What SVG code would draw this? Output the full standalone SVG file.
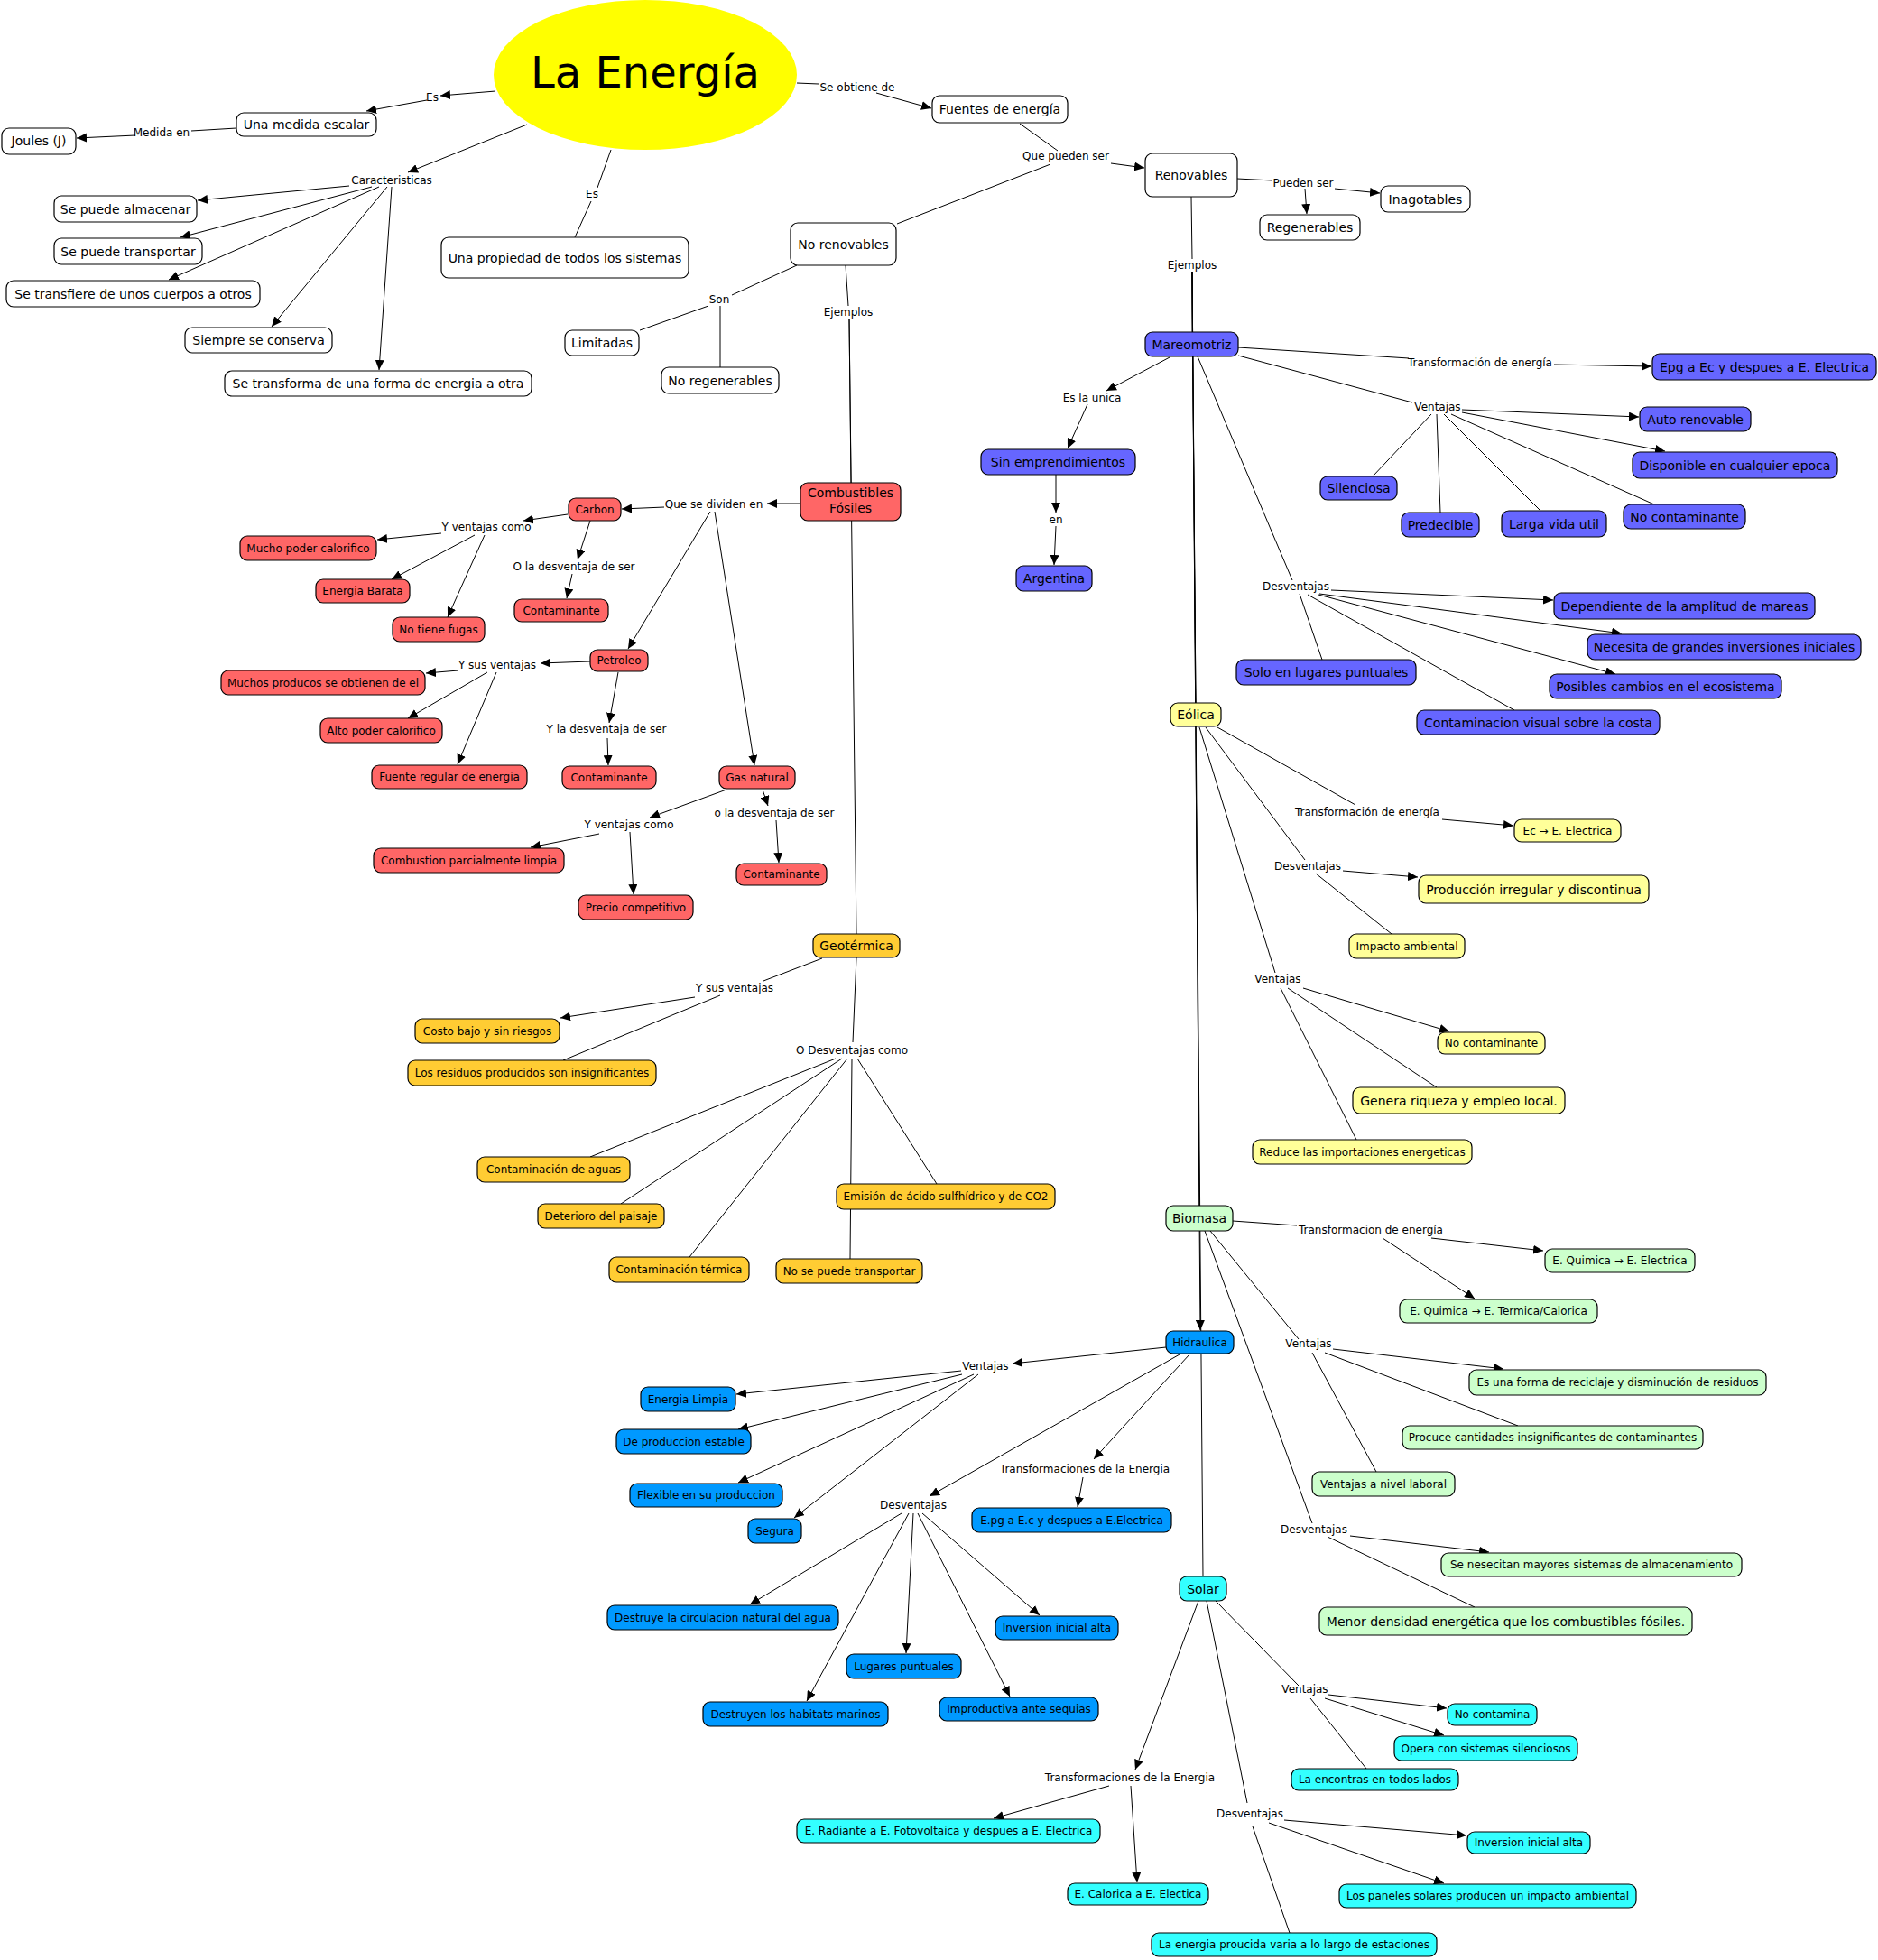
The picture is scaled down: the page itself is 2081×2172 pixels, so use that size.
<svg xmlns="http://www.w3.org/2000/svg" width="2081" height="2172" viewBox="0 0 2081 2172">
<defs>
<marker id="ah" markerUnits="userSpaceOnUse" markerWidth="11" markerHeight="10" refX="11" refY="5" orient="auto" viewBox="0 0 11 10"><path d="M0,0 L11,5 L0,10 z" fill="#000"/></marker>
<style>
text{font-family:"DejaVu Sans",Verdana,sans-serif;fill:#000;text-anchor:middle}
.n rect{stroke:#000;stroke-width:1.2}
.t14{font-size:14px}.t12{font-size:12px}
.lbl text{font-size:12px}
.w rect{fill:#fff}.r rect{fill:#ff6666}.b rect{fill:#6666ff}.o rect{fill:#ffcc33}.y rect{fill:#ffff99}.g rect{fill:#ccffcc}.h rect{fill:#0099ff}.c rect{fill:#33ffff}
#connectors path{stroke:#000;stroke-width:1;fill:none}
#connectors path.a{marker-end:url(#ah)}
</style>
</defs>
<rect width="2081" height="2172" fill="#fff"/>
<g id="connectors">
<path class="a" d="M549,101 L488,106"/>
<path class="a" d="M473,111 L406,123"/>
<path d="M262,142 L212,145"/>
<path class="a" d="M150,150 L85,153"/>
<path class="a" d="M584,138 L452,191"/>
<path class="a" d="M387,206 L219,222"/>
<path class="a" d="M412,207 L200,263"/>
<path class="a" d="M420,207 L187,310"/>
<path class="a" d="M429,207 L301,362"/>
<path class="a" d="M434,207 L420,410"/>
<path d="M677,166 L662,208"/>
<path d="M655,223 L637,263"/>
<path d="M883,92 L907,93"/>
<path class="a" d="M971,103 L1032,120"/>
<path d="M1130,137 L1172,167"/>
<path class="a" d="M1231,181 L1268,186"/>
<path d="M1164,182 L994,248"/>
<path d="M1371,198 L1410,200"/>
<path class="a" d="M1479,209 L1529,214"/>
<path class="a" d="M1446,209 L1448,237"/>
<path d="M883,294 L811,327"/>
<path d="M785,339 L709,366"/>
<path d="M798,339 L798,407"/>
<path d="M937,294 L940,339"/>
<path d="M941,353 L943,535"/>
<path d="M941,353 L949,1035"/>
<path d="M1320,218 L1321,287"/>
<path d="M1321,301 L1321,368"/>
<path d="M1321,301 L1325,779"/>
<path d="M1321,301 L1329,1336"/>
<path class="a" d="M1321,301 L1330,1474"/>
<path d="M1321,301 L1333,1747"/>
<path d="M1372,385 L1561,397"/>
<path class="a" d="M1722,404 L1830,406"/>
<path d="M1372,394 L1565,446"/>
<path class="a" d="M1620,454 L1816,462"/>
<path class="a" d="M1620,457 L1845,500"/>
<path d="M1586,459 L1521,528"/>
<path d="M1592,459 L1596,568"/>
<path d="M1600,459 L1707,566"/>
<path d="M1608,459 L1833,559"/>
<path class="a" d="M1296,396 L1226,433"/>
<path class="a" d="M1205,448 L1183,497"/>
<path class="a" d="M1170,526 L1170,568"/>
<path class="a" d="M1170,583 L1168,626"/>
<path d="M1327,395 L1432,643"/>
<path d="M1440,658 L1465,731"/>
<path class="a" d="M1475,654 L1721,665"/>
<path class="a" d="M1462,658 L1797,702"/>
<path class="a" d="M1461,659 L1790,747"/>
<path d="M1449,659 L1678,787"/>
<path d="M1349,806 L1502,892"/>
<path class="a" d="M1598,908 L1677,915"/>
<path d="M1336,806 L1446,953"/>
<path class="a" d="M1488,965 L1571,972"/>
<path d="M1458,968 L1542,1035"/>
<path d="M1329,806 L1413,1078"/>
<path class="a" d="M1444,1095 L1606,1143"/>
<path d="M1427,1095 L1592,1205"/>
<path d="M1419,1095 L1503,1263"/>
<path class="a" d="M887,558 L850,558"/>
<path class="a" d="M736,562 L689,564"/>
<path class="a" d="M787,567 L696,719"/>
<path class="a" d="M792,567 L836,848"/>
<path class="a" d="M629,570 L580,577"/>
<path class="a" d="M489,591 L418,598"/>
<path class="a" d="M526,593 L434,642"/>
<path class="a" d="M537,593 L496,684"/>
<path class="a" d="M654,577 L640,620"/>
<path class="a" d="M634,636 L628,663"/>
<path class="a" d="M654,733 L599,735"/>
<path class="a" d="M508,743 L472,746"/>
<path class="a" d="M540,745 L452,796"/>
<path class="a" d="M550,745 L507,847"/>
<path class="a" d="M685,745 L675,801"/>
<path class="a" d="M673,818 L674,848"/>
<path class="a" d="M805,875 L720,906"/>
<path class="a" d="M664,924 L588,939"/>
<path class="a" d="M698,922 L702,991"/>
<path class="a" d="M845,875 L851,893"/>
<path class="a" d="M860,909 L863,956"/>
<path d="M911,1062 L846,1087"/>
<path class="a" d="M770,1105 L621,1128"/>
<path d="M798,1103 L624,1175"/>
<path d="M949,1061 L945,1155"/>
<path d="M926,1173 L654,1282"/>
<path d="M933,1173 L688,1334"/>
<path d="M939,1173 L764,1393"/>
<path d="M944,1173 L942,1395"/>
<path d="M950,1173 L1038,1312"/>
<path d="M1366,1353 L1437,1358"/>
<path class="a" d="M1586,1372 L1710,1386"/>
<path class="a" d="M1532,1372 L1634,1439"/>
<path d="M1341,1364 L1439,1484"/>
<path class="a" d="M1477,1495 L1666,1517"/>
<path d="M1468,1499 L1682,1580"/>
<path d="M1454,1499 L1525,1631"/>
<path d="M1335,1364 L1454,1688"/>
<path class="a" d="M1496,1702 L1650,1720"/>
<path d="M1471,1703 L1634,1781"/>
<path class="a" d="M1292,1493 L1122,1511"/>
<path class="a" d="M1065,1519 L816,1545"/>
<path class="a" d="M1066,1523 L818,1584"/>
<path class="a" d="M1079,1523 L818,1643"/>
<path class="a" d="M1084,1523 L880,1682"/>
<path class="a" d="M1307,1501 L1030,1658"/>
<path class="a" d="M999,1677 L831,1778"/>
<path class="a" d="M1007,1677 L894,1885"/>
<path class="a" d="M1012,1677 L1004,1832"/>
<path class="a" d="M1017,1677 L1119,1880"/>
<path class="a" d="M1022,1677 L1152,1790"/>
<path class="a" d="M1318,1501 L1212,1617"/>
<path class="a" d="M1200,1637 L1194,1670"/>
<path class="a" d="M1328,1774 L1258,1961"/>
<path class="a" d="M1229,1979 L1101,2015"/>
<path class="a" d="M1253,1979 L1260,2086"/>
<path d="M1347,1774 L1439,1868"/>
<path class="a" d="M1472,1878 L1603,1893"/>
<path class="a" d="M1468,1882 L1600,1923"/>
<path d="M1452,1882 L1514,1960"/>
<path d="M1337,1774 L1382,1998"/>
<path class="a" d="M1423,2017 L1625,2034"/>
<path class="a" d="M1406,2020 L1600,2087"/>
<path d="M1388,2024 L1429,2142"/>
</g>
<g id="link-labels" class="lbl">
<text x="479" y="112">Es</text>
<text x="179" y="151">Medida en</text>
<text x="434" y="204">Caracteristicas</text>
<text x="656" y="219">Es</text>
<text x="950" y="101">Se obtiene de</text>
<text x="1181" y="177">Que pueden ser</text>
<text x="797" y="336">Son</text>
<text x="940" y="350">Ejemplos</text>
<text x="1321" y="298">Ejemplos</text>
<text x="1444" y="207">Pueden ser</text>
<text x="1640" y="406">Transformación de energía</text>
<text x="1593" y="455">Ventajas</text>
<text x="1210" y="445">Es la unica</text>
<text x="1170" y="580">en</text>
<text x="1436" y="654">Desventajas</text>
<text x="791" y="563">Que se dividen en</text>
<text x="539" y="588">Y ventajas como</text>
<text x="636" y="632">O la desventaja de ser</text>
<text x="551" y="741">Y sus ventajas</text>
<text x="672" y="812">Y la desventaja de ser</text>
<text x="697" y="918">Y ventajas como</text>
<text x="858" y="905">o la desventaja de ser</text>
<text x="1515" y="904">Transformación de energía</text>
<text x="1449" y="964">Desventajas</text>
<text x="1416" y="1089">Ventajas</text>
<text x="814" y="1099">Y sus ventajas</text>
<text x="944" y="1168">O Desventajas como</text>
<text x="1519" y="1367">Transformacion de energía</text>
<text x="1450" y="1493">Ventajas</text>
<text x="1456" y="1699">Desventajas</text>
<text x="1092" y="1518">Ventajas</text>
<text x="1012" y="1672">Desventajas</text>
<text x="1202" y="1632">Transformaciones de la Energia</text>
<text x="1446" y="1876">Ventajas</text>
<text x="1252" y="1974">Transformaciones de la Energia</text>
<text x="1385" y="2014">Desventajas</text>
</g>
<g id="la-energia"><ellipse cx="715" cy="83" rx="168" ry="83" fill="#ffff00"/><text x="715" y="97" style="font-size:48px">La Energía</text></g>
<g id="joules" class="n w"><rect x="2" y="142" width="82" height="29" rx="8"/><text class="t14" x="43" y="161">Joules (J)</text></g>
<g id="medida-escalar" class="n w"><rect x="262" y="125" width="155" height="26" rx="8"/><text class="t14" x="339.5" y="143">Una medida escalar</text></g>
<g id="almacenar" class="n w"><rect x="60" y="217" width="158" height="29" rx="8"/><text class="t14" x="139" y="236.5">Se puede almacenar</text></g>
<g id="transportar" class="n w"><rect x="60" y="264" width="164" height="29" rx="8"/><text class="t14" x="142" y="283.5">Se puede transportar</text></g>
<g id="transfiere" class="n w"><rect x="7" y="311" width="281" height="29" rx="8"/><text class="t14" x="147.5" y="330.5">Se transfiere de unos cuerpos a otros</text></g>
<g id="conserva" class="n w"><rect x="205" y="363" width="163" height="28" rx="8"/><text class="t14" x="286.5" y="382">Siempre se conserva</text></g>
<g id="transforma" class="n w"><rect x="249" y="411" width="340" height="28" rx="8"/><text class="t14" x="419" y="430">Se transforma de una forma de energia a otra</text></g>
<g id="propiedad" class="n w"><rect x="489" y="263" width="274" height="45" rx="8"/><text class="t14" x="626" y="290.5">Una propiedad de todos los sistemas</text></g>
<g id="fuentes" class="n w"><rect x="1033" y="106" width="150" height="30" rx="8"/><text class="t14" x="1108" y="126">Fuentes de energía</text></g>
<g id="renovables" class="n w"><rect x="1269" y="170" width="102" height="48" rx="8"/><text class="t14" x="1320" y="199">Renovables</text></g>
<g id="no-renovables" class="n w"><rect x="876" y="247" width="117" height="47" rx="8"/><text class="t14" x="934.5" y="275.5">No renovables</text></g>
<g id="limitadas" class="n w"><rect x="626" y="366" width="82" height="28" rx="8"/><text class="t14" x="667" y="385">Limitadas</text></g>
<g id="no-regenerables" class="n w"><rect x="733" y="407" width="130" height="29" rx="8"/><text class="t14" x="798" y="426.5">No regenerables</text></g>
<g id="inagotables" class="n w"><rect x="1530" y="206" width="99" height="29" rx="8"/><text class="t14" x="1579.5" y="225.5">Inagotables</text></g>
<g id="regenerables" class="n w"><rect x="1396" y="238" width="111" height="28" rx="8"/><text class="t14" x="1451.5" y="257">Regenerables</text></g>
<g id="mareomotriz" class="n b"><rect x="1269" y="368" width="103" height="27" rx="8"/><text class="t14" x="1320.5" y="386.5">Mareomotriz</text></g>
<g id="epg" class="n b"><rect x="1831" y="392" width="248" height="29" rx="8"/><text class="t14" x="1955" y="411.5">Epg a Ec y despues a E. Electrica</text></g>
<g id="auto-renovable" class="n b"><rect x="1817" y="451" width="123" height="27" rx="8"/><text class="t14" x="1878.5" y="469.5">Auto renovable</text></g>
<g id="disponible" class="n b"><rect x="1809" y="501" width="227" height="29" rx="8"/><text class="t14" x="1922.5" y="520.5">Disponible en cualquier epoca</text></g>
<g id="silenciosa" class="n b"><rect x="1463" y="528" width="85" height="26" rx="8"/><text class="t14" x="1505.5" y="546">Silenciosa</text></g>
<g id="predecible" class="n b"><rect x="1553" y="568" width="86" height="27" rx="8"/><text class="t14" x="1596" y="586.5">Predecible</text></g>
<g id="larga-vida" class="n b"><rect x="1664" y="566" width="116" height="29" rx="8"/><text class="t14" x="1722" y="585.5">Larga vida util</text></g>
<g id="no-contaminante-m" class="n b"><rect x="1799" y="559" width="135" height="27" rx="8"/><text class="t14" x="1866.5" y="577.5">No contaminante</text></g>
<g id="sin-emprendimientos" class="n b"><rect x="1087" y="498" width="171" height="28" rx="8"/><text class="t14" x="1172.5" y="517">Sin emprendimientos</text></g>
<g id="argentina" class="n b"><rect x="1126" y="627" width="84" height="28" rx="8"/><text class="t14" x="1168" y="646">Argentina</text></g>
<g id="dependiente" class="n b"><rect x="1722" y="657" width="289" height="29" rx="8"/><text class="t14" x="1866.5" y="676.5">Dependiente de la amplitud de mareas</text></g>
<g id="necesita" class="n b"><rect x="1759" y="703" width="303" height="28" rx="8"/><text class="t14" x="1910.5" y="722">Necesita de grandes inversiones iniciales</text></g>
<g id="posibles" class="n b"><rect x="1717" y="747" width="257" height="27" rx="8"/><text class="t14" x="1845.5" y="765.5">Posibles cambios en el ecosistema</text></g>
<g id="contaminacion-visual" class="n b"><rect x="1570" y="787" width="269" height="27" rx="8"/><text class="t14" x="1704.5" y="805.5">Contaminacion visual sobre la costa</text></g>
<g id="solo-lugares" class="n b"><rect x="1370" y="731" width="199" height="28" rx="8"/><text class="t14" x="1469.5" y="750">Solo en lugares puntuales</text></g>
<g id="combustibles" class="n r"><rect x="887" y="535" width="111" height="42" rx="8"/><text class="t14" x="942.5" y="551">Combustibles</text><text class="t14" x="942.5" y="568">Fósiles</text></g>
<g id="carbon" class="n r"><rect x="630" y="552" width="58" height="25" rx="8"/><text class="t12" x="659" y="568.5">Carbon</text></g>
<g id="mucho-poder" class="n r"><rect x="266" y="594" width="151" height="27" rx="8"/><text class="t12" x="341.5" y="611.5">Mucho poder calorifico</text></g>
<g id="energia-barata" class="n r"><rect x="350" y="642" width="104" height="26" rx="8"/><text class="t12" x="402" y="659">Energia Barata</text></g>
<g id="no-fugas" class="n r"><rect x="435" y="684" width="102" height="27" rx="8"/><text class="t12" x="486" y="701.5">No tiene fugas</text></g>
<g id="contaminante-c" class="n r"><rect x="570" y="664" width="104" height="25" rx="8"/><text class="t12" x="622" y="680.5">Contaminante</text></g>
<g id="petroleo" class="n r"><rect x="654" y="720" width="64" height="24" rx="8"/><text class="t12" x="686" y="736">Petroleo</text></g>
<g id="muchos-producos" class="n r"><rect x="245" y="743" width="226" height="27" rx="8"/><text class="t12" x="358" y="760.5">Muchos producos se obtienen de el</text></g>
<g id="alto-poder" class="n r"><rect x="355" y="796" width="135" height="27" rx="8"/><text class="t12" x="422.5" y="813.5">Alto poder calorifico</text></g>
<g id="fuente-regular" class="n r"><rect x="412" y="848" width="172" height="26" rx="8"/><text class="t12" x="498" y="865">Fuente regular de energia</text></g>
<g id="contaminante-p" class="n r"><rect x="623" y="849" width="104" height="25" rx="8"/><text class="t12" x="675" y="865.5">Contaminante</text></g>
<g id="gas-natural" class="n r"><rect x="797" y="849" width="84" height="25" rx="8"/><text class="t12" x="839" y="865.5">Gas natural</text></g>
<g id="combustion" class="n r"><rect x="414" y="940" width="211" height="27" rx="8"/><text class="t12" x="519.5" y="957.5">Combustion parcialmente limpia</text></g>
<g id="precio" class="n r"><rect x="641" y="992" width="127" height="27" rx="8"/><text class="t12" x="704.5" y="1009.5">Precio competitivo</text></g>
<g id="contaminante-g" class="n r"><rect x="816" y="957" width="100" height="24" rx="8"/><text class="t12" x="866" y="973">Contaminante</text></g>
<g id="geotermica" class="n o"><rect x="901" y="1035" width="96" height="26" rx="8"/><text class="t14" x="949" y="1053">Geotérmica</text></g>
<g id="costo" class="n o"><rect x="460" y="1129" width="160" height="27" rx="8"/><text class="t12" x="540" y="1146.5">Costo bajo y sin riesgos</text></g>
<g id="residuos" class="n o"><rect x="452" y="1175" width="275" height="28" rx="8"/><text class="t12" x="589.5" y="1193">Los residuos producidos son insignificantes</text></g>
<g id="aguas" class="n o"><rect x="529" y="1282" width="169" height="28" rx="8"/><text class="t12" x="613.5" y="1300">Contaminación de aguas</text></g>
<g id="deterioro" class="n o"><rect x="596" y="1334" width="140" height="27" rx="8"/><text class="t12" x="666" y="1351.5">Deterioro del paisaje</text></g>
<g id="termica" class="n o"><rect x="675" y="1393" width="155" height="28" rx="8"/><text class="t12" x="752.5" y="1411">Contaminación térmica</text></g>
<g id="emision" class="n o"><rect x="927" y="1312" width="242" height="28" rx="8"/><text class="t12" x="1048" y="1330">Emisión de ácido sulfhídrico y de CO2</text></g>
<g id="no-transportar" class="n o"><rect x="860" y="1395" width="162" height="27" rx="8"/><text class="t12" x="941" y="1412.5">No se puede transportar</text></g>
<g id="eolica" class="n y"><rect x="1297" y="779" width="56" height="26" rx="8"/><text class="t14" x="1325" y="797">Eólica</text></g>
<g id="ec-electrica" class="n y"><rect x="1678" y="908" width="118" height="25" rx="8"/><text class="t12" x="1737" y="924.5">Ec → E. Electrica</text></g>
<g id="produccion-irregular" class="n y"><rect x="1572" y="970" width="255" height="31" rx="8"/><text class="t14" x="1699.5" y="990.5">Producción irregular y discontinua</text></g>
<g id="impacto" class="n y"><rect x="1495" y="1035" width="128" height="27" rx="8"/><text class="t12" x="1559" y="1052.5">Impacto ambiental</text></g>
<g id="no-contaminante-e" class="n y"><rect x="1593" y="1144" width="119" height="24" rx="8"/><text class="t12" x="1652.5" y="1160">No contaminante</text></g>
<g id="genera" class="n y"><rect x="1499" y="1205" width="235" height="29" rx="8"/><text class="t14" x="1616.5" y="1224.5">Genera riqueza y empleo local.</text></g>
<g id="reduce" class="n y"><rect x="1388" y="1263" width="243" height="27" rx="8"/><text class="t12" x="1509.5" y="1280.5">Reduce las importaciones energeticas</text></g>
<g id="biomasa" class="n g"><rect x="1292" y="1336" width="74" height="28" rx="8"/><text class="t14" x="1329" y="1355">Biomasa</text></g>
<g id="quimica-electrica" class="n g"><rect x="1712" y="1384" width="166" height="26" rx="8"/><text class="t12" x="1795" y="1401">E. Quimica → E. Electrica</text></g>
<g id="quimica-termica" class="n g"><rect x="1551" y="1440" width="219" height="26" rx="8"/><text class="t12" x="1660.5" y="1457">E. Quimica → E. Termica/Calorica</text></g>
<g id="reciclaje" class="n g"><rect x="1628" y="1518" width="329" height="28" rx="8"/><text class="t12" x="1792.5" y="1536">Es una forma de reciclaje y disminución de residuos</text></g>
<g id="procuce" class="n g"><rect x="1554" y="1580" width="333" height="26" rx="8"/><text class="t12" x="1720.5" y="1597">Procuce cantidades insignificantes de contaminantes</text></g>
<g id="laboral" class="n g"><rect x="1454" y="1631" width="158" height="27" rx="8"/><text class="t12" x="1533" y="1648.5">Ventajas a nivel laboral</text></g>
<g id="almacenamiento" class="n g"><rect x="1597" y="1721" width="333" height="26" rx="8"/><text class="t12" x="1763.5" y="1738">Se nesecitan mayores sistemas de almacenamiento</text></g>
<g id="menor-densidad" class="n g"><rect x="1462" y="1781" width="413" height="31" rx="8"/><text class="t14" x="1668.5" y="1801.5">Menor densidad energética que los combustibles fósiles.</text></g>
<g id="hidraulica" class="n h"><rect x="1292" y="1475" width="75" height="25" rx="8"/><text class="t12" x="1329.5" y="1491.5">Hidraulica</text></g>
<g id="energia-limpia" class="n h"><rect x="710" y="1537" width="105" height="27" rx="8"/><text class="t12" x="762.5" y="1554.5">Energia Limpia</text></g>
<g id="estable" class="n h"><rect x="683" y="1584" width="149" height="27" rx="8"/><text class="t12" x="757.5" y="1601.5">De produccion estable</text></g>
<g id="flexible" class="n h"><rect x="698" y="1644" width="169" height="26" rx="8"/><text class="t12" x="782.5" y="1661">Flexible en su produccion</text></g>
<g id="segura" class="n h"><rect x="829" y="1683" width="59" height="27" rx="8"/><text class="t12" x="858.5" y="1700.5">Segura</text></g>
<g id="epg-h" class="n h"><rect x="1077" y="1671" width="221" height="27" rx="8"/><text class="t12" x="1187.5" y="1688.5">E.pg a E.c y despues a E.Electrica</text></g>
<g id="destruye" class="n h"><rect x="673" y="1779" width="256" height="27" rx="8"/><text class="t12" x="801" y="1796.5">Destruye la circulacion natural del agua</text></g>
<g id="inversion-h" class="n h"><rect x="1103" y="1791" width="136" height="26" rx="8"/><text class="t12" x="1171" y="1808">Inversion inicial alta</text></g>
<g id="lugares" class="n h"><rect x="938" y="1833" width="127" height="27" rx="8"/><text class="t12" x="1001.5" y="1850.5">Lugares puntuales</text></g>
<g id="habitats" class="n h"><rect x="779" y="1886" width="205" height="27" rx="8"/><text class="t12" x="881.5" y="1903.5">Destruyen los habitats marinos</text></g>
<g id="improductiva" class="n h"><rect x="1041" y="1881" width="176" height="26" rx="8"/><text class="t12" x="1129" y="1898">Improductiva ante sequias</text></g>
<g id="solar" class="n c"><rect x="1307" y="1747" width="52" height="27" rx="8"/><text class="t14" x="1333" y="1765.5">Solar</text></g>
<g id="no-contamina" class="n c"><rect x="1604" y="1888" width="99" height="24" rx="8"/><text class="t12" x="1653.5" y="1904">No contamina</text></g>
<g id="opera" class="n c"><rect x="1545" y="1924" width="203" height="27" rx="8"/><text class="t12" x="1646.5" y="1941.5">Opera con sistemas silenciosos</text></g>
<g id="encontras" class="n c"><rect x="1431" y="1960" width="185" height="24" rx="8"/><text class="t12" x="1523.5" y="1976">La encontras en todos lados</text></g>
<g id="inversion-s" class="n c"><rect x="1626" y="2030" width="136" height="24" rx="8"/><text class="t12" x="1694" y="2046">Inversion inicial alta</text></g>
<g id="paneles" class="n c"><rect x="1484" y="2088" width="329" height="26" rx="8"/><text class="t12" x="1648.5" y="2105">Los paneles solares producen un impacto ambiental</text></g>
<g id="estaciones" class="n c"><rect x="1276" y="2142" width="316" height="26" rx="8"/><text class="t12" x="1434" y="2159">La energia proucida varia a lo largo de estaciones</text></g>
<g id="radiante" class="n c"><rect x="883" y="2016" width="336" height="26" rx="8"/><text class="t12" x="1051" y="2033">E. Radiante a E. Fotovoltaica y despues a E. Electrica</text></g>
<g id="calorica" class="n c"><rect x="1183" y="2087" width="156" height="24" rx="8"/><text class="t12" x="1261" y="2103">E. Calorica a E. Electica</text></g>
</svg>
